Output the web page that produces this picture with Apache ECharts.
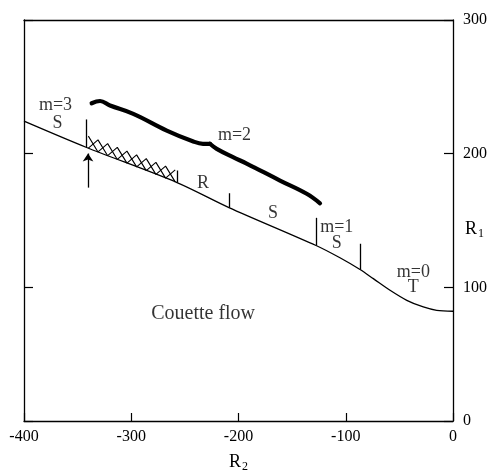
<!DOCTYPE html>
<html><head><meta charset="utf-8">
<script src="https://cdn.jsdelivr.net/npm/echarts@6/dist/echarts.min.js"></script>
<style>html,body{margin:0;padding:0;background:#fff}#c{width:488px;height:472px}</style>
</head><body><div id="c"></div>
<script>
// ---- data (R2, R1) ----
const xTickStep = 100;
const yTickStep = 100;
const R2range = [-400, 0];
const R1range = [0, 300];

// Couette flow stability boundary
const boundary = [[-400,224.3],[-342.2,204.8],[-257.3,178.4],[-208.9,159.7],[-127.7,131.3],[-105.4,122.1],[-86.7,113.3],[-74.3,106.5],[-58.7,97.8],[-43.1,90.3],[-27.7,85.3],[-15.2,82.8],[0,82.1]];

// thick m=2 boundary, split at the cusp
const m2BoundaryA = [[-336.9,237.7],[-329.1,239.4],[-319.8,236.0],[-298.1,229.8],[-266.9,217.3],[-242.1,209.1],[-233.1,207.4],[-226.6,207.4]];
const m2BoundaryB = [[-226.6,207.4],[-220.3,203.6],[-205.1,197.4],[-192.4,192.6],[-161.3,179.9],[-136.4,170.0],[-124.0,162.9]];

// hatched band: two zigzags forming a chain of X's
const hatchA = [[-340,204.1],[-331,210.3],[-322,198.5],[-313,204.7],[-304,192.9],[-295,199.1],[-286,187.3],[-277,193.5],[-268,181.7],[-259,187.9]];
const hatchB = [[-340,213.1],[-331,201.3],[-322,207.5],[-313,195.7],[-304,201.9],[-295,190.1],[-286,196.3],[-277,184.5],[-268,190.7],[-259,178.9]];

// vertical transition marks on the boundary
const markR2   = [-342.2,-257.3,-208.9,-127.7,-86.7];
const markLow  = [204.8,178.4,159.7,131.3,113.3];
const markHigh = [225.6,187.4,170.4,152.0,132.6];

// arrow
const arrowR2 = -340.3;
const arrowFrom = 174.6;
const arrowTo = 200.1;

// annotations
const labelTexts = ['m=3','S','m=2','R','S','m=1','S','m=0','T'];
const labelR2 = [-370.6,-368.8,-203.7,-233.0,-167.8,-108.4,-108.4,-37.0,-37.0];
const labelR1 = [236.0,222.8,213.6,177.7,155.2,145.0,132.6,111.3,100.1];
const flowText = 'Couette flow';
const flowR2 = -233.0;
const flowR1 = 80.4;

// ---- chart ----
const ink = '#000';
const serif = "'Liberation Serif','DejaVu Serif',serif";
const chart = echarts.init(document.getElementById('c'));

const markLines = markR2.map((x,i)=>[{coord:[x,markLow[i]]},{coord:[x,markHigh[i]]}]);
const axLine = {show:true,onZero:false,lineStyle:{color:ink,width:1.3}};

chart.setOption({
  animation:false,
  backgroundColor:'#fff',
  grid:{left:24,right:35,top:20,bottom:51,containLabel:false,outerBoundsMode:'none'},
  xAxis:[{
    type:'value', min:R2range[0], max:R2range[1], interval:xTickStep, position:'bottom',
    axisLine:axLine,
    axisTick:{inside:true,length:8,lineStyle:{color:ink,width:1.2}},
    axisLabel:{color:ink,fontFamily:serif,fontSize:16,margin:8,showMinLabel:true,showMaxLabel:true},
    splitLine:{show:false},
    name:'{r|R}{s|2}', nameLocation:'middle', nameGap:30, nameMoveOverlap:false,
    nameTextStyle:{rich:{r:{fontFamily:serif,fontSize:18,color:ink},s:{fontFamily:serif,fontSize:12,color:ink,padding:[10,0,0,1]}}}
  },{
    type:'value', min:R2range[0], max:R2range[1], interval:xTickStep, position:'top',
    axisLine:axLine,
    axisTick:{show:false}, axisLabel:{show:false}, splitLine:{show:false}
  }],
  yAxis:[{
    type:'value', min:R1range[0], max:R1range[1], interval:yTickStep, position:'right',
    axisLine:axLine,
    axisTick:{show:true,inside:true,length:9,lineStyle:{color:ink,width:1.2}},
    axisLabel:{color:ink,fontFamily:serif,fontSize:16,margin:10,showMinLabel:true,showMaxLabel:true},
    splitLine:{show:false},
    name:'{r|R}{s|1}', nameLocation:'middle', nameGap:12, nameRotate:0, nameMoveOverlap:false,
    nameTextStyle:{align:'left',padding:[17,0,0,0],rich:{r:{fontFamily:serif,fontSize:18,color:ink},s:{fontFamily:serif,fontSize:12,color:ink,padding:[10,0,0,1]}}}
  },{
    type:'value', min:R1range[0], max:R1range[1], interval:yTickStep, position:'left',
    axisLine:axLine,
    axisTick:{show:true,inside:true,length:9,lineStyle:{color:ink,width:1.2}},
    axisLabel:{show:false}, splitLine:{show:false}
  }],
  series:[
    {type:'line', data:boundary, smooth:0.3, symbol:'none', lineStyle:{color:ink,width:1.3}, silent:true,
     markLine:{silent:true, symbol:['none','none'], label:{show:false}, lineStyle:{type:'solid',color:ink,width:1.3}, data:markLines}},
    {type:'line', data:m2BoundaryA, smooth:0.4, symbol:'none', lineStyle:{color:ink,width:4.2,cap:'round'}, silent:true},
    {type:'line', data:m2BoundaryB, smooth:0.4, symbol:'none', lineStyle:{color:ink,width:4.2,cap:'round'}, silent:true},
    {type:'line', data:hatchA, symbol:'none', lineStyle:{color:ink,width:1.1}, silent:true},
    {type:'line', data:hatchB, symbol:'none', lineStyle:{color:ink,width:1.1}, silent:true},
    {type:'line', data:[], silent:true,
     markLine:{silent:true, symbol:['none','arrow'], symbolSize:8, label:{show:false}, lineStyle:{type:'solid',color:ink,width:1.3},
       data:[[{coord:[arrowR2,arrowFrom]},{coord:[arrowR2,arrowTo]}]]}},
    {type:'scatter', symbolSize:0, silent:true,
     data:labelTexts.map((t,i)=>({name:t,value:[labelR2[i],labelR1[i]]})),
     label:{show:true,position:'inside',formatter:'{b}',color:ink,fontFamily:serif,fontSize:18}},
    {type:'scatter', symbolSize:0, silent:true,
     data:[{name:flowText,value:[flowR2,flowR1]}],
     label:{show:true,position:'inside',formatter:'{b}',color:ink,fontFamily:serif,fontSize:20}}
  ]
});
</script></body></html>
